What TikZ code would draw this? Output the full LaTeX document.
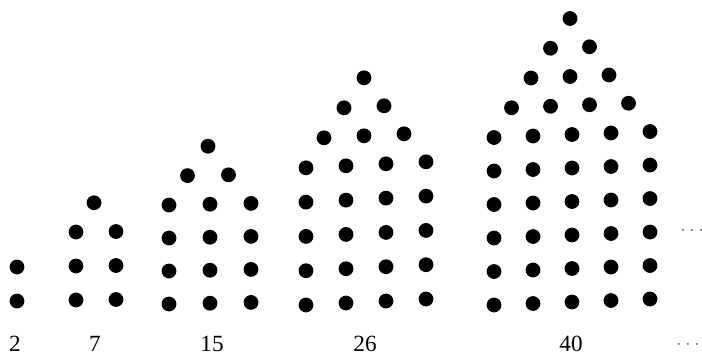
\documentclass[tikz,border=0pt]{standalone}
\usepackage{fontspec}
\setmainfont{Liberation Serif}

\begin{document}
\begin{tikzpicture}[x=0.025cm, y=-0.025cm,
  dot/.style={circle, fill=black, inner sep=0pt, minimum size=0.37cm},
  lbl/.style={inner sep=0pt, font=\fontsize{16.5}{19}\selectfont},
  etc/.style={inner sep=0pt, text=black!55, font=\fontsize{14.5}{17}\selectfont}]

\useasboundingbox (0,0) rectangle (702,355);

% 点阵: 左列x / 底行y / 列数 / 列距 / 行距 / 倾斜
\foreach \xo/\yo/\k/\ddx/\ddy/\tl in {17/301/1/40/34/0, 76/300/2/40/34/-0.5,
    169/304/3/41/33/-0.8, 306/305/4/40/34.3/-2, 494/305/5/39/33.5/-1.5} {
  % 矩形部分
  \foreach \c in {1,...,\k} {
    \foreach \r in {0,...,\k} {
      \node[dot] (d-\k-\c-\r) at ({\xo+\ddx*(\c-1)}, {\yo-\ddy*\r+\tl*(\c-1)}) {};
    }
  }
  % 三角形顶部
  \ifnum\k>1
    \pgfmathtruncatemacro{\kk}{\k-1}
    \foreach \t in {1,...,\kk} {
      \pgfmathtruncatemacro{\m}{\k-\t-1}
      \foreach \j in {0,...,\m} {
        \node[dot] (t-\k-\t-\j) at ({\xo+\ddx*\t/2+\ddx*\j-2},
          {\yo-\ddy*\k-29*\t+\tl*(\t/2+\j)}) {};
      }
    }
  \fi
}

% 数字
\node[lbl] (n2) at (15,344) {2};
\node[lbl] (n7) at (95,344) {7};
\node[lbl] (n15) at (212,344) {15};
\node[lbl] (n26) at (365,344) {26};
\node[lbl] (n40) at (571,344) {40};

% 省略号
\node[etc] (e1) at (692,231) {$\cdots$};
\node[etc] (e2) at (688,345) {$\cdots$};

\end{tikzpicture}
\end{document}
